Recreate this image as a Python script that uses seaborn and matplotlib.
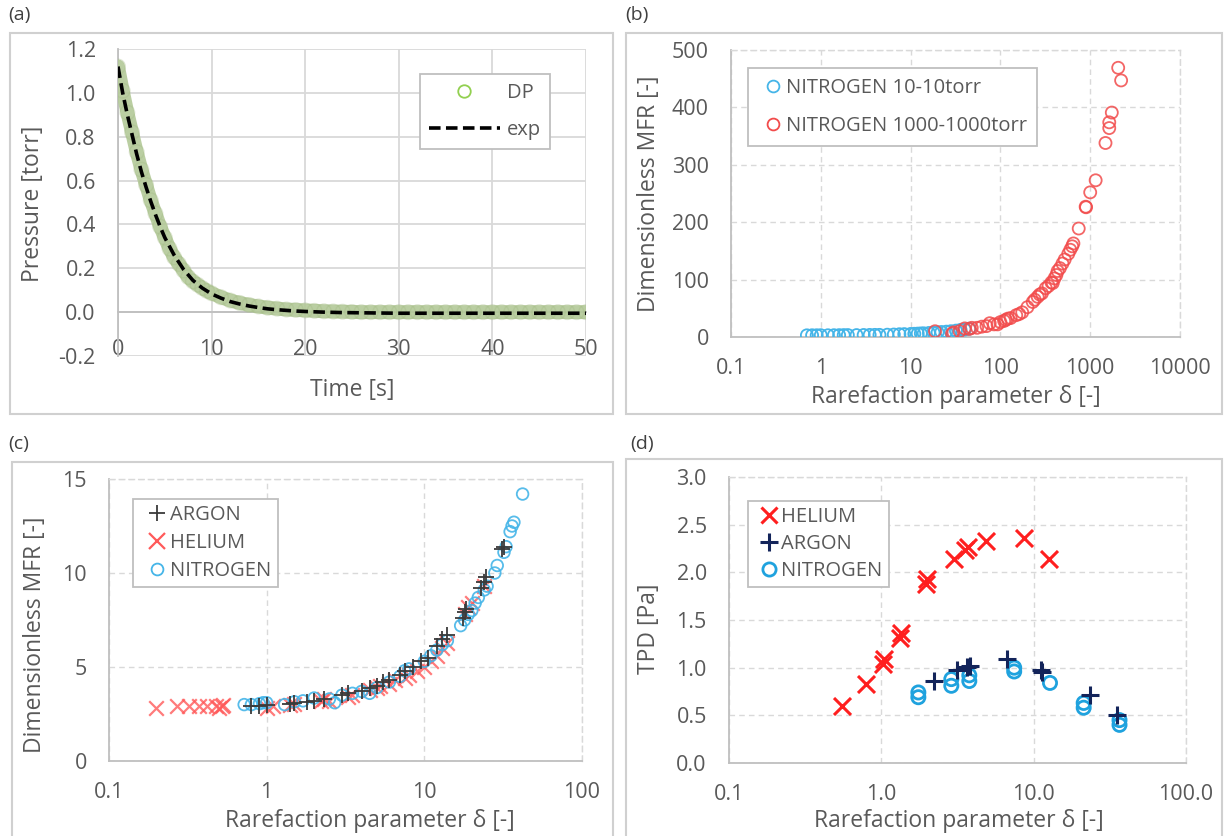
import numpy as np
import pandas as pd
import matplotlib
matplotlib.use("Agg")
import matplotlib.pyplot as plt
import seaborn as sns
from matplotlib.patches import Rectangle
from matplotlib.lines import Line2D
from matplotlib.ticker import NullLocator

# ---------------- data ----------------
# (a) pressure decay
dp_time = [0, 0.5, 1, 1.5, 2, 2.5, 3, 3.5, 4, 4.5, 5, 5.5, 6, 6.5, 7, 7.5, 8, 8.5, 9, 9.5, 10,
           11, 12, 13, 14, 15, 16, 17, 18, 19, 20, 21, 22, 23, 24, 25, 26, 27, 28, 29, 30,
           31, 32, 33, 34, 35, 36, 37, 38, 39, 40, 41, 42, 43, 44, 45, 46, 47, 48, 49, 50]
dp_pressure = [1.12, 1.01, 0.91, 0.82, 0.73, 0.65, 0.58, 0.51, 0.45, 0.39, 0.34, 0.29, 0.25, 0.22,
               0.19, 0.16, 0.14, 0.125, 0.11, 0.097, 0.086,
               0.068, 0.053, 0.042, 0.033, 0.026, 0.020, 0.016, 0.012, 0.010, 0.008, 0.006, 0.004,
               0.003, 0.002, 0.001, 0.0, 0.0, 0.0, 0.0, 0.0,
               0.0, 0.0, 0.0, 0.0, 0.0, 0.0, 0.0, 0.0, 0.0, 0.0, 0.0, 0.0, 0.0, 0.0, 0.0, 0.0,
               0.0, 0.0, 0.0, 0.0]
exp_time = [0, 0.5, 1, 1.5, 2, 2.5, 3, 3.5, 4, 4.5, 5, 6, 7, 8, 9, 10, 11, 12, 13, 14, 15, 16, 17,
            18, 19, 20, 22, 24, 26, 28, 30, 35, 40, 45, 50]
exp_pressure = [1.12, 1.00, 0.90, 0.81, 0.72, 0.64, 0.57, 0.505, 0.445, 0.39, 0.34, 0.26, 0.195,
                0.145, 0.11, 0.083, 0.064, 0.048, 0.037, 0.028, 0.021, 0.015, 0.011, 0.008, 0.005,
                0.003, 0.0, -0.002, -0.003, -0.004, -0.005, -0.005, -0.005, -0.005, -0.005]

# (b) nitrogen, two pressure series
n2_low_delta = [0.7, 0.8, 0.9, 1.0, 1.2, 1.4, 1.6, 1.8, 2.0, 2.5, 3.0, 3.5, 4.0, 4.5, 5.5, 6.5, 7.5,
                8.5, 10, 11, 12, 13, 14, 16, 18, 20, 22, 25, 28, 32, 36, 40, 45]
n2_low_mfr = [2.9, 3.0, 3.0, 3.1, 3.0, 3.1, 3.2, 3.3, 3.35, 3.3, 3.5, 3.6, 3.7, 3.7, 4.0, 4.3, 4.8,
              5.0, 5.3, 5.6, 5.9, 6.2, 6.4, 7.0, 7.5, 8.0, 8.7, 9.3, 10.0, 11.1, 12.4, 13.0, 14.5]
n2_high_delta = [18.7, 29, 30, 35, 40, 45, 48, 55, 62, 70, 76, 85, 93, 100, 110, 115, 121, 130, 150,
                 162, 175, 200, 229, 241, 260, 274, 290, 320, 344, 370, 383, 400, 420, 434, 460, 491,
                 520, 570, 600, 630, 650, 745, 890, 900, 1000, 1150, 1480, 1630, 1630, 1740, 2050,
                 2210]
n2_high_mfr = [10, 6, 8, 10, 15, 14, 16, 16, 18, 19, 24, 22, 22, 26, 28, 30, 32, 33, 38, 40, 43, 52,
               61, 65, 70, 74, 76, 85, 89, 95, 94, 102, 108, 115, 120, 128, 135, 145, 152, 158, 163,
               189, 227, 226, 252, 273, 338, 364, 374, 391, 469, 447]

# (c) dimensionless MFR for three gases
ar_delta = [0.8, 0.9, 1.0, 1.4, 1.5, 1.8, 2.0, 2.3, 3.0, 3.3, 4.0, 4.5, 5.0, 5.5, 6.0, 7.0, 7.5, 8.5,
            9.5, 10.5, 12, 13, 14, 17.5, 18, 18.5, 23, 24, 24.5, 31, 32]
ar_mfr = [2.9, 2.95, 3.0, 3.05, 3.1, 3.15, 3.2, 3.3, 3.5, 3.6, 3.75, 3.9, 4.0, 4.2, 4.3, 4.6, 4.8,
          5.0, 5.3, 5.5, 6.1, 6.5, 6.7, 7.6, 7.9, 8.1, 9.2, 9.5, 9.8, 11.3, 11.4]
he_delta = [0.2, 0.27, 0.32, 0.37, 0.42, 0.48, 0.5, 0.52, 0.53, 1.0, 1.1, 1.4, 1.5, 2.2, 2.3, 2.5,
            3.3, 3.5, 4.5, 5.0, 5.2, 6.0, 6.5, 7.5, 8.0, 9.0, 10, 11, 12, 13, 14, 18, 19, 20, 24]
he_mfr = [2.8, 2.9, 2.9, 2.9, 2.95, 2.9, 2.8, 2.9, 3.0, 2.8, 2.9, 3.0, 3.05, 3.2, 3.3, 3.2, 3.4,
          3.5, 3.8, 3.9, 4.0, 4.1, 4.3, 4.4, 4.6, 4.8, 5.0, 5.3, 5.6, 6.0, 6.3, 7.8, 8.2, 8.4, 9.3]
n2_delta = [0.72, 0.8, 0.9, 0.95, 1.0, 1.3, 1.5, 1.7, 2.0, 2.5, 2.7, 3.0, 3.5, 4.0, 4.5, 5.0, 6, 7,
            7.5, 8, 10, 11, 12, 13, 14, 17, 18, 19, 20, 21, 22, 24, 25, 28, 29, 32, 33, 35, 36, 37, 42]
n2_mfr = [3.0, 3.0, 3.05, 3.1, 3.1, 3.0, 3.15, 3.2, 3.35, 3.3, 3.1, 3.5, 3.6, 3.7, 3.6, 3.9, 4.2,
          4.5, 4.8, 4.9, 5.3, 5.6, 5.9, 6.2, 6.4, 7.2, 7.5, 7.8, 8.0, 8.4, 8.7, 9.1, 9.3, 10.0, 10.4,
          11.1, 11.4, 12.2, 12.5, 12.7, 14.2]

# (d) TPD
tpd_he_delta = [0.55, 0.79, 1.02, 1.04, 1.32, 1.34, 1.95, 1.98, 2.98, 3.55, 3.7, 4.87, 8.6, 12.6]
tpd_he = [0.60, 0.83, 1.04, 1.09, 1.31, 1.36, 1.88, 1.93, 2.14, 2.23, 2.27, 2.33, 2.36, 2.14]
tpd_ar_delta = [2.22, 3.16, 3.66, 3.8, 6.7, 11.2, 11.4, 23.5, 35.5]
tpd_ar = [0.86, 0.98, 1.01, 1.02, 1.09, 0.98, 0.95, 0.71, 0.50]
tpd_n2_delta = [1.75, 1.75, 2.88, 2.88, 3.78, 3.78, 7.45, 7.45, 12.8, 21.3, 21.3, 36.6, 36.6]
tpd_n2 = [0.74, 0.69, 0.88, 0.81, 0.92, 0.86, 1.00, 0.96, 0.84, 0.63, 0.58, 0.45, 0.40]

# tick labels
b_xticklabels = ["0.1", "1", "10", "100", "1000", "10000"]
c_xticklabels = ["0.1", "1", "10", "100"]
d_xticklabels = ["0.1", "1.0", "10.0", "100.0"]

# ---------------- style ----------------
sns.set_theme(style="white")
plt.rcParams["font.family"] = ["Open Sans", "DejaVu Sans"]
TXT = "#595959"
GRID = "#d9d9d9"
AX = "#bfbfbf"
FS_TICK = 15.5
FS_TITLE = 16.5
FS_LEG = 14.5

W, H = 1224, 836
fig = plt.figure(figsize=(W / 100, H / 100), dpi=100)


def ax_at(l, r, t, b):
    return fig.add_axes([l / W, 1 - b / H, (r - l) / W, (b - t) / H])


def frame(x0, x1, y0, y1):
    fig.add_artist(Rectangle((x0 / W, 1 - y1 / H), (x1 - x0) / W, (y1 - y0) / H,
                             transform=fig.transFigure, fill=False, ec="#d0d0d0", lw=1.5))


def fig_text(x, y, s, **kw):
    fig.text(x / W, 1 - y / H, s, **kw)


def labels(ax, xl, xpos, yl, ypos):
    ax.set_xlabel(xl, fontsize=FS_TITLE, color=TXT)
    ax.set_ylabel(yl, fontsize=FS_TITLE, color=TXT)
    ax.xaxis.set_label_coords(xpos[0] / W, 1 - xpos[1] / H, transform=fig.transFigure)
    ax.yaxis.set_label_coords(ypos[0] / W, 1 - ypos[1] / H, transform=fig.transFigure)
    ax.xaxis.label.set_va("center")
    ax.yaxis.label.set_va("center")
    ax.yaxis.label.set_ha("center")


def legend_at(ax, handles, names, x0, y0, **kw):
    leg = ax.legend(handles, names, loc="upper left", bbox_to_anchor=(x0 / W, 1 - y0 / H),
                    bbox_transform=fig.transFigure, borderaxespad=0, frameon=True,
                    fancybox=False, framealpha=1, edgecolor=AX, fontsize=FS_LEG, **kw)
    leg.get_frame().set_linewidth(1.3)
    for t in leg.get_texts():
        t.set_color(TXT)
    return leg


def style_log(ax, xlim, ylim, xticks, xlabs, yticks, ylabs):
    ax.set_xscale("log")
    ax.set_xlim(*xlim)
    ax.set_ylim(*ylim)
    ax.set_xticks(xticks)
    ax.set_xticklabels(xlabs)
    ax.xaxis.set_minor_locator(NullLocator())
    ax.set_yticks(yticks)
    ax.set_yticklabels(ylabs)
    ax.grid(True, which="major", ls=(0, (4, 3)), color=GRID, lw=1)
    for s in ["top", "right"]:
        ax.spines[s].set_visible(True)
        ax.spines[s].set_color(GRID)
        ax.spines[s].set_linestyle((0, (4, 3)))
        ax.spines[s].set_linewidth(1)
    for s in ["bottom", "left"]:
        ax.spines[s].set_visible(True)
        ax.spines[s].set_color(AX)
        ax.spines[s].set_linewidth(1.3)
    ax.tick_params(axis="x", length=0, pad=15, labelsize=FS_TICK, labelcolor=TXT)
    ax.tick_params(axis="y", length=0, pad=16, labelsize=FS_TICK, labelcolor=TXT)
    ax.set_axisbelow(True)


# panel frames & letters
frame(10, 613, 33, 414)
frame(626, 1222, 33, 414)
frame(12, 613, 462, 840)
frame(626, 1222, 459, 840)
for x, y, s in [(8, 15, "(a)"), (625, 15, "(b)"), (8, 444, "(c)"), (630, 444, "(d)")]:
    fig_text(x, y, s, fontsize=14, color="#404040", va="center", ha="left")

# ---------------- (a) ----------------
axa = ax_at(118, 586, 49, 356)
dfa = pd.DataFrame({"t": dp_time, "p": dp_pressure})
dfe = pd.DataFrame({"t": exp_time, "p": exp_pressure})
sns.lineplot(data=dfa, x="t", y="p", ax=axa, color="#b3c998", lw=10, alpha=0.9,
             solid_capstyle="round", zorder=3)
sns.scatterplot(data=dfa, x="t", y="p", ax=axa, marker="o", s=110, facecolors="none",
                edgecolor="#a3bb84", linewidth=1.0, alpha=0.35, zorder=4)
sns.lineplot(data=dfe, x="t", y="p", ax=axa, color="black", lw=2.6, zorder=5)
axa.lines[-1].set_linestyle((0, (3.2, 1.5)))
axa.set_xlim(0, 50)
axa.set_ylim(-0.2, 1.2)
axa.set_xticks([0, 10, 20, 30, 40, 50])
axa.set_xticklabels(["0", "10", "20", "30", "40", "50"])
axa.set_yticks([-0.2, 0, 0.2, 0.4, 0.6, 0.8, 1.0, 1.2])
axa.set_yticklabels(["-0.2", "0.0", "0.2", "0.4", "0.6", "0.8", "1.0", "1.2"])
axa.grid(True, color=GRID, lw=1.3)
axa.set_axisbelow(True)
for s in ["top", "right"]:
    axa.spines[s].set_visible(False)
axa.spines["left"].set_color(AX)
axa.spines["left"].set_linewidth(1.3)
axa.spines["bottom"].set_position(("data", 0))
axa.spines["bottom"].set_color(AX)
axa.spines["bottom"].set_linewidth(1.3)
axa.tick_params(axis="x", length=0, pad=19, labelsize=FS_TICK, labelcolor=TXT)
axa.tick_params(axis="y", length=0, pad=16, labelsize=FS_TICK, labelcolor=TXT)
labels(axa, "Time [s]", (352, 390), "Pressure [torr]", (33, 204))
ha = [Line2D([], [], ls="none", marker="o", ms=9, mfc="none", mec="#92d050", mew=1.3),
      Line2D([], [], color="black", lw=2.6, ls=(0, (3.2, 1.5)))]
legend_at(axa, ha, ["DP", "exp"], 420, 74, borderpad=0.45, labelspacing=0.85,
          handlelength=3.5, handletextpad=0.35)

# ---------------- (b) ----------------
axb = ax_at(731, 1180, 50, 337)
sns.scatterplot(x=n2_low_delta, y=n2_low_mfr, ax=axb, marker="o", s=75, facecolors="none",
                edgecolor="#45b5e8", linewidth=1.3, zorder=3)
sns.scatterplot(x=n2_high_delta, y=n2_high_mfr, ax=axb, marker="o", s=75, facecolors="none",
                edgecolor="#f24b4b", linewidth=1.3, alpha=0.85, zorder=4)
style_log(axb, (0.1, 10000), (0, 500), [0.1, 1, 10, 100, 1000, 10000], b_xticklabels,
          [0, 100, 200, 300, 400, 500], ["0", "100", "200", "300", "400", "500"])
labels(axb, "Rarefaction parameter δ [-]", (956, 397), "Dimensionless MFR [-]", (649, 194))
hb = [Line2D([], [], ls="none", marker="o", ms=8.5, mfc="none", mec="#45b5e8", mew=1.3),
      Line2D([], [], ls="none", marker="o", ms=8.5, mfc="none", mec="#f24b4b", mew=1.3)]
legend_at(axb, hb, ["NITROGEN 10-10torr", "NITROGEN 1000-1000torr"], 748, 68,
          borderpad=0.5, labelspacing=0.9, handlelength=1.5, handletextpad=-0.1)

# ---------------- (c) ----------------
axc = ax_at(109, 582, 479, 761)
sns.scatterplot(x=he_delta, y=he_mfr, ax=axc, marker="x", s=110, color="#ff5a5a",
                linewidth=1.6, alpha=0.8, zorder=3)
sns.scatterplot(x=n2_delta, y=n2_mfr, ax=axc, marker="o", s=70, facecolors="none",
                edgecolor="#45b5e8", linewidth=1.3, alpha=0.9, zorder=4)
sns.scatterplot(x=ar_delta, y=ar_mfr, ax=axc, marker="+", s=140, color="#3a3a3a",
                linewidth=1.3, zorder=5)
style_log(axc, (0.1, 100), (0, 15), [0.1, 1, 10, 100], c_xticklabels,
          [0, 5, 10, 15], ["0", "5", "10", "15"])
labels(axc, "Rarefaction parameter δ [-]", (370, 821), "Dimensionless MFR [-]", (35, 635))
hc = [Line2D([], [], ls="none", marker="+", ms=12, color="#3a3a3a", mew=1.3),
      Line2D([], [], ls="none", marker="x", ms=11, color="#ff5a5a", mew=1.6),
      Line2D([], [], ls="none", marker="o", ms=8.5, mfc="none", mec="#45b5e8", mew=1.3)]
legend_at(axc, hc, ["ARGON", "HELIUM", "NITROGEN"], 133, 499,
          borderpad=0.3, labelspacing=0.4, handlelength=1.8, handletextpad=-0.25)

# ---------------- (d) ----------------
axd = ax_at(729, 1186, 477, 763)
sns.scatterplot(x=tpd_he_delta, y=tpd_he, ax=axd, marker="x", s=150, color="#ff1f1f",
                linewidth=2.2, zorder=3)
sns.scatterplot(x=tpd_n2_delta, y=tpd_n2, ax=axd, marker="o", s=90, facecolors="none",
                edgecolor="#1fa2de", linewidth=2.0, zorder=4)
sns.scatterplot(x=tpd_ar_delta, y=tpd_ar, ax=axd, marker="+", s=170, color="#13245a",
                linewidth=2.2, zorder=5)
style_log(axd, (0.1, 100), (0, 3), [0.1, 1, 10, 100], d_xticklabels,
          [0, 0.5, 1.0, 1.5, 2.0, 2.5, 3.0], ["0.0", "0.5", "1.0", "1.5", "2.0", "2.5", "3.0"])
labels(axd, "Rarefaction parameter δ [-]", (959, 821), "TPD [Pa]", (649, 629))
hd = [Line2D([], [], ls="none", marker="x", ms=12, color="#ff1f1f", mew=2.2),
      Line2D([], [], ls="none", marker="+", ms=13, color="#13245a", mew=2.2),
      Line2D([], [], ls="none", marker="o", ms=9.5, mfc="none", mec="#1fa2de", mew=2.0)]
legend_at(axd, hd, ["HELIUM", "ARGON", "NITROGEN"], 748, 501,
          borderpad=0.3, labelspacing=0.35, handlelength=1.5, handletextpad=-0.15)

fig.savefig("out.png", dpi=100)
